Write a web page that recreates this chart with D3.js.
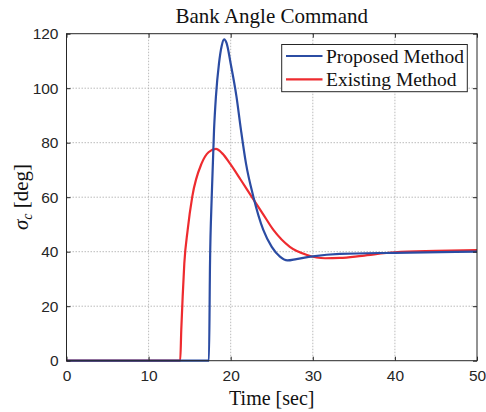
<!DOCTYPE html>
<html><head><meta charset="utf-8">
<script src="https://cdn.jsdelivr.net/npm/d3@7"></script>
<style>body{margin:0;background:#fff}svg{display:block}</style>
</head><body>
<script>
const proposedT = [0, 17.35, 17.48, 17.69, 17.97, 18.2, 18.57, 18.9, 19.2, 19.5, 20.0, 20.7, 21.25, 21.86, 22.76, 23.97, 25.0, 26.0, 26.9, 28.0, 30.0, 33.3, 40, 50];
const proposedV = [0, 0, 35.7, 60.2, 84.7, 96.9, 109, 115.5, 117.9, 116.5, 109, 97, 84.7, 72.4, 60.2, 48, 41.8, 38.2, 36.8, 37.3, 38.3, 39.2, 39.6, 40.0];
const existingT = [0, 13.85, 13.98, 14.15, 14.35, 14.76, 15.32, 16.46, 17.3, 18.2, 19.0, 19.9, 21.2, 22.55, 23.9, 25.2, 27.2, 29.3, 31.5, 33.3, 36, 40, 45, 50];
const existingV = [0, 0, 11.3, 23.5, 35.7, 48, 60.2, 72.4, 76.5, 77.7, 76.0, 72.4, 66.5, 60.2, 54, 48, 41.8, 38.8, 37.6, 37.7, 38.5, 39.8, 40.3, 40.6];
const xTicks = [0, 10, 20, 30, 40, 50];
const yTicks = [0, 20, 40, 60, 80, 100, 120];
const seriesNames = ["Proposed Method", "Existing Method"];
const seriesColors = ["#2b4ca3", "#ee2b2f"];

const W = 486, H = 412;
const L = 66.5, R = 477, T = 33.7, B = 360.7;
const svg = d3.select("body").append("svg").attr("width", W).attr("height", H);
const x = d3.scaleLinear().domain([0, 50]).range([L, R]);
const y = d3.scaleLinear().domain([0, 120]).range([B, T]);
const serif = "'Liberation Serif', 'Times New Roman', serif";

// grid
const g = svg.append("g");
g.selectAll(".gx").data(xTicks.slice(1, -1)).enter().append("line")
  .attr("x1", d => x(d)).attr("x2", d => x(d)).attr("y1", T).attr("y2", B)
  .attr("stroke", "#aaaaaa").attr("stroke-width", 0.8).attr("stroke-dasharray", "1.5,1.5");
g.selectAll(".gy").data(yTicks.slice(1, -1)).enter().append("line")
  .attr("x1", L).attr("x2", R).attr("y1", d => y(d)).attr("y2", d => y(d))
  .attr("stroke", "#aaaaaa").attr("stroke-width", 0.8).attr("stroke-dasharray", "1.5,1.5");

// lines
const series = [
  proposedT.map((t, i) => [t, proposedV[i]]),
  existingT.map((t, i) => [t, existingV[i]])
];
const line = d3.line().x(d => x(d[0])).y(d => y(d[1])).curve(d3.curveMonotoneX);
[1, 0].forEach(i => {
  svg.append("path").datum(series[i]).attr("d", line)
    .attr("fill", "none").attr("stroke", seriesColors[i]).attr("stroke-width", 2.2)
    .attr("stroke-linejoin", "round");
});

// axes box
const axColor = "#262626";
svg.append("rect").attr("x", L).attr("y", T).attr("width", R - L).attr("height", B - T)
  .attr("fill", "none").attr("stroke", axColor).attr("stroke-width", 1);
const xb = svg.append("g").attr("transform", `translate(0,${B})`)
  .call(d3.axisBottom(x).tickValues(xTicks).tickSizeInner(-4).tickSizeOuter(0).tickPadding(9));
const xt = svg.append("g").attr("transform", `translate(0,${T})`)
  .call(d3.axisTop(x).tickValues(xTicks).tickSizeInner(-4).tickSizeOuter(0).tickFormat(""));
const yl = svg.append("g").attr("transform", `translate(${L},0)`)
  .call(d3.axisLeft(y).tickValues(yTicks).tickSizeInner(-4).tickSizeOuter(0).tickPadding(8));
const yr = svg.append("g").attr("transform", `translate(${R},0)`)
  .call(d3.axisRight(y).tickValues(yTicks).tickSizeInner(-4).tickSizeOuter(0).tickFormat(""));
[xb, xt, yl, yr].forEach(a => {
  a.select(".domain").remove();
  a.selectAll("line").attr("stroke", axColor);
  a.selectAll("text").attr("fill", axColor).style("font-family", "'Liberation Sans', Arial, sans-serif").style("font-size", "15.5px");
});

// title and labels
svg.append("text").attr("x", (L + R) / 2).attr("y", 23).attr("text-anchor", "middle")
  .style("font-family", serif).style("font-size", "21px").attr("fill", "#111")
  .text("Bank Angle Command");
svg.append("text").attr("x", (L + R) / 2).attr("y", 405).attr("text-anchor", "middle")
  .style("font-family", serif).style("font-size", "20px").attr("fill", "#111")
  .text("Time [sec]");
const yLab = svg.append("text").attr("transform", `translate(28,197) rotate(-90)`).attr("text-anchor", "middle")
  .style("font-family", serif).style("font-size", "21px").attr("fill", "#111");
yLab.append("tspan").style("font-style", "italic").text("σ");
yLab.append("tspan").style("font-style", "italic").style("font-size", "14px").attr("dy", 4).text("c");
yLab.append("tspan").attr("dy", -4).text(" [deg]");

// legend
const lg = svg.append("g");
lg.append("rect").attr("x", 281.7).attr("y", 44.5).attr("width", 185.6).attr("height", 47.2)
  .attr("fill", "#fff").attr("stroke", axColor).attr("stroke-width", 1);
seriesNames.forEach((n, i) => {
  const yy = 56 + i * 23.3;
  lg.append("line").attr("x1", 286).attr("x2", 322.5).attr("y1", yy).attr("y2", yy)
    .attr("stroke", seriesColors[i]).attr("stroke-width", 2.2);
  lg.append("text").attr("x", 326).attr("y", yy + 6.5)
    .style("font-family", serif).style("font-size", "19.5px").attr("fill", "#111")
    .text(n);
});
</script>
</body></html>
